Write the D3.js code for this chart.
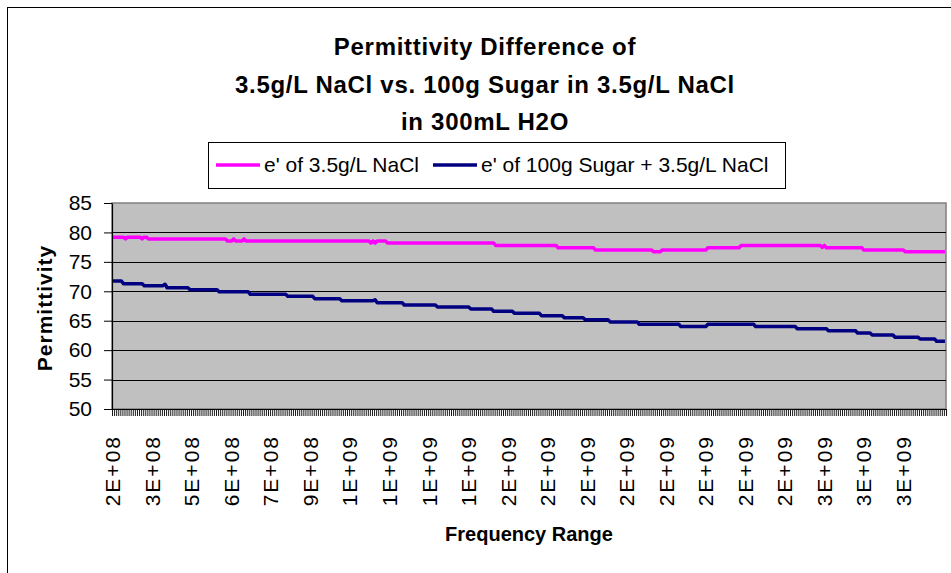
<!DOCTYPE html>
<html><head><meta charset="utf-8">
<script src="https://cdn.jsdelivr.net/npm/d3@7"></script>
<style>
body{margin:0;background:#fff}
svg{display:block}
text{font-family:Arial,"Liberation Sans",Helvetica,sans-serif;fill:#000}
</style>
</head><body>
<svg id="chart" width="951" height="573"></svg>
<script>
// ---- data ----
const titleLines = ["Permittivity Difference of", "3.5g/L NaCl vs. 100g Sugar in 3.5g/L NaCl", "in 300mL H2O"];
const seriesNames = ["e' of 3.5g/L NaCl", "e' of 100g Sugar + 3.5g/L NaCl"];
const xTitle = "Frequency Range";
const yTitle = "Permittivity";
// permittivity values as [value, number of consecutive sweep points]
const naclRuns = [[79.2,6],[78.9,1],[79.2,7],[78.9,1],[79.2,2],[78.9,38],[78.55,3],[78.9,1],[78.55,4],[78.9,1],
  [78.55,60],[78.2,1],[78.55,1],[78.2,1],[78.55,5],[78.2,52],[77.8,30],[77.4,18],[77.0,28],[76.7,4],[77.0,22],
  [77.4,16],[77.8,39],[77.45,1],[77.8,1],[77.4,18],[77.0,20],[76.7,20]];
const sugarRuns = [[71.75,5],[71.3,10],[70.95,10],[71.2,1],[70.6,11],[70.27,14],[69.9,15],[69.5,18],[69.15,13],
  [68.75,13],[68.4,16],[68.55,1],[68.07,13],[67.67,16],[67.33,16],[67.0,11],[66.6,10],[66.25,13],[65.86,11],
  [65.5,10],[65.17,12],[64.8,14],[64.4,20],[64.0,13],[64.4,23],[64.0,20],[63.65,15],[63.3,14],[62.9,7],
  [62.57,11],[62.2,12],[61.9,8],[61.5,5]];
const xTickLabels = ["2E+08","3E+08","5E+08","6E+08","7E+08","9E+08","1E+09","1E+09","1E+09","1E+09",
  "2E+09","2E+09","2E+09","2E+09","2E+09","2E+09","2E+09","2E+09","3E+09","3E+09","3E+09"];
const labelEvery = 19;
const yTicks = [50,55,60,65,70,75,80,85];
const gridValues = [55,60,65,70,75,80];

// ---- build ----
const nacl = naclRuns.flatMap(([v,n]) => Array(n).fill(v));
const sugar = sugarRuns.flatMap(([v,n]) => Array(n).fill(v));
const categories = d3.range(nacl.length);
const colors = ["#FF00FF", "#000080"];

const svg = d3.select("#chart");
const P = {left:112, right:946, top:203, bottom:409};

// outer chart frame
svg.append("rect").attr("x",7.5).attr("y",7.5).attr("width",980).attr("height",600)
  .attr("fill","#fff").attr("stroke","#000").attr("stroke-width",1);

const x = d3.scaleBand().domain(categories).range([P.left,P.right]).paddingInner(0).paddingOuter(0);
const xEdge = d3.scaleLinear().domain([0,categories.length]).range([P.left,P.right]);
const y = d3.scaleLinear().domain([50,85]).range([P.bottom,P.top]);
const cx = i => x(i) + x.bandwidth()/2;

// plot area
svg.append("rect").attr("x",P.left).attr("y",P.top).attr("width",P.right-P.left).attr("height",P.bottom-P.top)
  .attr("fill","#C0C0C0").attr("stroke","#808080").attr("stroke-width",1.5);

// gridlines
svg.append("g").selectAll("line").data(gridValues).join("line")
  .attr("x1",P.left).attr("x2",P.right).attr("y1",d=>Math.round(y(d))+0.5).attr("y2",d=>Math.round(y(d))+0.5)
  .attr("stroke","#000").attr("stroke-width",1);

// y axis
const yAxis = svg.append("g").attr("transform",`translate(${P.left},0)`)
  .call(d3.axisLeft(y).tickValues(yTicks).tickSize(8).tickSizeOuter(0).tickPadding(12));
yAxis.select(".domain").attr("stroke","#000").attr("stroke-width",1.2);
yAxis.selectAll(".tick line").attr("stroke","#000");
yAxis.selectAll(".tick text").attr("font-size",21).attr("font-family","Arial, 'Liberation Sans', sans-serif").attr("fill","#000");

// x axis ticks (one per category boundary)
const xAxis = svg.append("g").attr("transform",`translate(0,${P.bottom})`)
  .call(d3.axisBottom(xEdge).tickValues(d3.range(categories.length+1)).tickSize(7).tickSizeOuter(0).tickFormat(""));
xAxis.select(".domain").attr("stroke","#000").attr("stroke-width",1.2);
xAxis.selectAll(".tick line").attr("stroke","#000").attr("stroke-width",0.9);

// x tick labels
svg.append("g").selectAll("text").data(xTickLabels).join("text")
  .attr("transform",(d,k)=>`translate(${cx(k*labelEvery)},435) rotate(-90)`)
  .attr("text-anchor","end").attr("dy","0.35em").attr("font-size",21).attr("letter-spacing",2)
  .text(d=>d);

// series
const line = d3.line().x((d,i)=>cx(i)).y(d=>y(d));
[nacl, sugar].forEach((s,k)=>{
  svg.append("path").datum(s).attr("d",line).attr("fill","none")
    .attr("stroke",colors[k]).attr("stroke-width",3.5).attr("stroke-linejoin","round");
});

// title
svg.append("g").selectAll("text").data(titleLines).join("text")
  .attr("x",485).attr("y",(d,i)=>55+i*37.5).attr("text-anchor","middle")
  .attr("font-size",24).attr("font-weight","bold").attr("letter-spacing",0.7).text(d=>d);

// legend
const lg = svg.append("g");
lg.append("rect").attr("x",208.5).attr("y",142.5).attr("width",577).attr("height",46)
  .attr("fill","#fff").attr("stroke","#000").attr("stroke-width",1);
const legendX = [216, 433];
seriesNames.forEach((n,k)=>{
  lg.append("line").attr("x1",legendX[k]).attr("x2",legendX[k]+44).attr("y1",165).attr("y2",165)
    .attr("stroke",colors[k]).attr("stroke-width",3.5);
  lg.append("text").attr("x",legendX[k]+48).attr("y",171.5).attr("font-size",21).text(n);
});

// axis titles
svg.append("text").attr("x",529).attr("y",541).attr("text-anchor","middle")
  .attr("font-size",20).attr("font-weight","bold").text(xTitle);
svg.append("text").attr("transform","translate(52,308) rotate(-90)").attr("text-anchor","middle")
  .attr("font-size",21).attr("font-weight","bold").attr("letter-spacing",1).text(yTitle);
</script>
</body></html>
